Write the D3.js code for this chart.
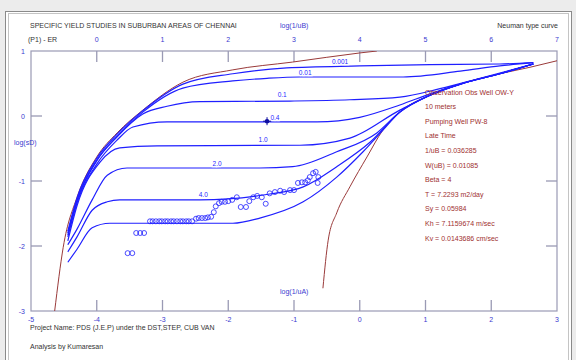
<!DOCTYPE html>
<html>
<head>
<meta charset="utf-8">
<script src="https://cdn.jsdelivr.net/npm/d3@7"></script>
<style>
  html, body { margin: 0; padding: 0; background: #ececec; }
  svg { display: block; font-family: "Liberation Sans", Arial, sans-serif; }
</style>
</head>
<body>
<div id="chart"></div>
<script>
// axis ticks
const bottomTicks = [-5, -4, -3, -2, -1, 0, 1, 2, 3];
const topTicks = [0, 1, 2, 3, 4, 5, 6, 7];
const leftTicks = [1, 0, -1, -2, -3];

// Theis curves: A against log(1/uA), B against log(1/uB)
const theisA = [[-4.64,-3.0],[-4.51,-2.02],[-4.30,-1.25],[-4.00,-0.63],[-3.69,-0.26],[-3.30,0.09],
  [-2.69,0.52],[-1.93,0.71],[-1.02,0.83],[0.0,0.97],[0.26,1.0]];
const theisB = [[3.44,-2.65],[3.52,-1.91],[3.65,-1.49],[3.85,-1.09],[4.11,-0.63],[4.35,-0.22],
  [4.61,0.06],[5.07,0.32],[5.52,0.49],[6.13,0.65],[6.59,0.75],[7.0,0.85]];

// Neuman type curves, one per beta (log(1/uA), log(sD))
const betaValues = ['0.001', '0.01', '0.1', '0.4', '1.0', '2.0', '4.0', '7.0'];
const typeCurves = [
  [[-4.44,-1.77],[-4.30,-1.26],[-4.00,-0.65],[-3.69,-0.28],[-3.30,0.08],[-2.69,0.49],[-1.93,0.65],
   [-1.11,0.74],[0.00,0.77],[1.07,0.79],[2.13,0.80],[2.64,0.82]],
  [[-4.44,-1.80],[-4.30,-1.29],[-4.00,-0.68],[-3.69,-0.31],[-3.30,0.06],[-2.69,0.43],[-1.93,0.54],
   [-1.41,0.58],[-0.91,0.60],[0.66,0.60],[1.53,0.69],[2.13,0.77],[2.64,0.82]],
  [[-4.44,-1.83],[-4.30,-1.31],[-4.00,-0.69],[-3.69,-0.32],[-3.30,0.03],[-2.93,0.15],[-2.43,0.22],
   [-1.06,0.23],[-0.15,0.25],[0.61,0.29],[1.22,0.42],[1.83,0.58],[2.64,0.80]],
  [[-4.44,-1.86],[-4.30,-1.34],[-4.00,-0.74],[-3.69,-0.37],[-3.45,-0.17],[-2.93,-0.09],[-0.65,-0.09],
   [0.00,-0.02],[0.61,0.17],[1.07,0.34],[1.53,0.49],[2.13,0.65],[2.64,0.80]],
  [[-4.44,-1.92],[-4.30,-1.38],[-3.95,-0.71],[-3.65,-0.49],[-3.08,-0.46],[-0.91,-0.45],[-0.15,-0.34],
   [0.61,0.09],[1.07,0.32],[1.53,0.49],[2.13,0.65],[2.64,0.80]],
  [[-4.44,-1.98],[-4.30,-1.74],[-4.07,-1.29],[-3.84,-0.91],[-3.54,-0.80],[-1.52,-0.80],[-1.02,-0.78],
   [-0.35,-0.55],[0.26,-0.26],[0.61,0.06],[1.07,0.32],[1.53,0.49],[2.13,0.65],[2.64,0.80]],
  [[-4.44,-2.09],[-4.30,-1.86],[-4.07,-1.45],[-3.84,-1.32],[-3.65,-1.29],[-2.43,-1.29],[-1.37,-1.20],
   [-0.86,-1.09],[-0.35,-0.78],[0.16,-0.40],[0.61,0.06],[1.07,0.32],[1.53,0.49],[2.13,0.65],[2.64,0.80]],
  [[-4.44,-2.25],[-4.30,-2.05],[-4.07,-1.72],[-3.80,-1.65],[-1.93,-1.65],[-1.52,-1.57],[-0.86,-1.32],
   [-0.35,-0.94],[0.05,-0.55],[0.35,-0.22],[0.61,0.06],[1.07,0.32],[1.53,0.49],[2.13,0.65],[2.64,0.80]]
];
const labelAt = [[-0.30,0.83],[-0.83,0.66],[-1.18,0.32],[-1.29,-0.03],[-1.47,-0.37],[-2.17,-0.74],[-2.38,-1.22],null];
const matchPoint = [-1.41, -0.08];

// observed data
const observed = [
  [-3.53,-2.11],[-3.46,-2.11],
  [-3.40,-1.80],[-3.34,-1.80],[-3.28,-1.80],
  [-3.19,-1.62],[-3.15,-1.62],[-3.10,-1.62],[-3.05,-1.62],[-3.01,-1.62],[-2.96,-1.62],[-2.92,-1.62],
  [-2.87,-1.62],[-2.83,-1.62],[-2.78,-1.62],[-2.73,-1.62],[-2.69,-1.62],[-2.64,-1.62],[-2.60,-1.62],[-2.55,-1.62],
  [-2.49,-1.58],[-2.45,-1.57],[-2.40,-1.57],[-2.35,-1.57],[-2.31,-1.56],[-2.26,-1.55],
  [-2.22,-1.48],[-2.19,-1.39],[-2.14,-1.34],[-2.10,-1.32],[-2.05,-1.32],[-2.00,-1.31],[-1.94,-1.29],
  [-1.87,-1.25],[-1.81,-1.40],[-1.73,-1.40],[-1.68,-1.31],
  [-1.62,-1.25],[-1.56,-1.23],[-1.49,-1.25],[-1.43,-1.35],
  [-1.37,-1.19],[-1.29,-1.17],[-1.21,-1.15],[-1.15,-1.17],[-1.06,-1.14],[-1.00,-1.14],
  [-0.94,-1.03],[-0.88,-1.02],[-0.83,-1.02],[-0.79,-0.99],[-0.76,-0.94],[-0.71,-0.88],[-0.67,-0.86],
  [-0.64,-1.03],[-0.63,-0.94]
];

const legendLines = [
  'Observation Obs Well OW-Y', '10 meters', 'Pumping Well PW-8', 'Late Time',
  '1/uB = 0.036285', 'W(uB) = 0.01085', 'Beta = 4', 'T = 7.2293 m2/day',
  'Sy = 0.05984', 'Kh = 7.1159674 m/sec', 'Kv = 0.0143686 cm/sec'
];

const W = 576, H = 360;
const blue = '#1f1fff', brown = '#9a3a3a', axisCol = '#9a9ab4', tickText = '#3a3ad0';

const svg = d3.select('#chart').append('svg').attr('width', W).attr('height', H);

// window panel
svg.append('rect').attr('x', 5.5).attr('y', 11.5).attr('width', 566).attr('height', 360)
  .attr('fill', '#fff').attr('stroke', '#8a8a8a');
svg.append('rect').attr('x', 8.5).attr('y', 13.5).attr('width', 560).attr('height', 360)
  .attr('fill', 'none').attr('stroke', '#c4c4c4');

const x = d3.scaleLinear().domain([-5, 3]).range([31, 557]);
const xTop = d3.scaleLinear().domain([-1, 7]).range([31, 557]);
const y = d3.scaleLinear().domain([-3, 1]).range([311, 51]);

// frame + inward ticks
const frame = svg.append('g');
frame.append('rect').attr('x', 31).attr('y', 51).attr('width', 526).attr('height', 260)
  .attr('fill', 'none').attr('stroke', axisCol).attr('stroke-width', 1.2);
bottomTicks.slice(1, -1).forEach(v => {
  frame.append('line').attr('x1', x(v)).attr('x2', x(v)).attr('y1', 311).attr('y2', 300)
    .attr('stroke', axisCol).attr('stroke-width', 1.3);
});
topTicks.slice(0, -1).forEach(v => {
  frame.append('line').attr('x1', xTop(v)).attr('x2', xTop(v)).attr('y1', 51).attr('y2', 62)
    .attr('stroke', axisCol).attr('stroke-width', 1.3);
});
leftTicks.slice(1, -1).forEach(v => {
  frame.append('line').attr('x1', 31).attr('x2', 42).attr('y1', y(v)).attr('y2', y(v))
    .attr('stroke', axisCol).attr('stroke-width', 1.3);
  frame.append('line').attr('x1', 557).attr('x2', 546).attr('y1', y(v)).attr('y2', y(v))
    .attr('stroke', axisCol).attr('stroke-width', 1.3);
});

// tick labels
const lab = svg.append('g').attr('font-size', 7).attr('fill', tickText);
bottomTicks.forEach(v => lab.append('text').attr('x', x(v)).attr('y', 322)
  .attr('text-anchor', 'middle').text(v));
topTicks.forEach(v => lab.append('text').attr('x', xTop(v)).attr('y', 42)
  .attr('text-anchor', 'middle').text(v));
leftTicks.forEach(v => lab.append('text').attr('x', 25).attr('y', y(v) + 2.5)
  .attr('text-anchor', 'end').text(v));
lab.append('text').attr('x', 14).attr('y', 145).text('log(sD)');
lab.append('text').attr('x', 280).attr('y', 28).text('log(1/uB)');
lab.append('text').attr('x', 280).attr('y', 294).text('log(1/uA)');

// headings
const txt = svg.append('g').attr('font-size', 7).attr('fill', '#333');
txt.append('text').attr('x', 30).attr('y', 28).text('SPECIFIC YIELD STUDIES IN SUBURBAN AREAS OF CHENNAI');
txt.append('text').attr('x', 558).attr('y', 28).attr('text-anchor', 'end').text('Neuman type curve');
txt.append('text').attr('x', 28).attr('y', 42).text('(P1) - ER');
txt.append('text').attr('x', 30).attr('y', 330).text('Project Name: PDS (J.E.P) under the DST,STEP, CUB VAN');
txt.append('text').attr('x', 30).attr('y', 349).text('Analysis by Kumaresan');

// plotting area
svg.append('clipPath').attr('id', 'clip').append('rect')
  .attr('x', 31).attr('y', 51).attr('width', 526).attr('height', 260);
const plot = svg.append('g').attr('clip-path', 'url(#clip)');

const lineA = d3.line().x(d => x(d[0])).y(d => y(d[1])).curve(d3.curveMonotoneX);
const lineB = d3.line().x(d => xTop(d[0])).y(d => y(d[1])).curve(d3.curveMonotoneX);

plot.append('path').attr('d', lineA(theisA)).attr('fill', 'none')
  .attr('stroke', brown).attr('stroke-width', 1);
plot.append('path').attr('d', lineB(theisB)).attr('fill', 'none')
  .attr('stroke', brown).attr('stroke-width', 1);

plot.selectAll('.tc').data(typeCurves).enter().append('path')
  .attr('class', 'tc').attr('d', lineA).attr('fill', 'none')
  .attr('stroke', blue).attr('stroke-width', 1.2);

// beta labels
plot.selectAll('.bl').data(betaValues.filter((b, i) => labelAt[i]))
  .enter().append('text').attr('class', 'bl')
  .attr('x', (d, i) => x(labelAt[i][0])).attr('y', (d, i) => y(labelAt[i][1]) + 2)
  .attr('text-anchor', 'middle').attr('font-size', 6.5).attr('fill', blue)
  .attr('stroke', '#fff').attr('stroke-width', 2.5).attr('paint-order', 'stroke')
  .text(d => d);

// match point marker
plot.append('circle').attr('cx', x(matchPoint[0])).attr('cy', y(matchPoint[1])).attr('r', 2.3)
  .attr('fill', '#1010a0');
plot.append('path').attr('d', `M${x(matchPoint[0]) - 4},${y(matchPoint[1])}h8M${x(matchPoint[0])},${y(matchPoint[1]) - 4}v8`)
  .attr('stroke', '#1010a0').attr('stroke-width', 1);

// observed drawdown
plot.selectAll('.obs').data(observed).enter().append('circle')
  .attr('class', 'obs').attr('cx', d => x(d[0])).attr('cy', d => y(d[1])).attr('r', 2.5)
  .attr('fill', 'none').attr('stroke', blue).attr('stroke-width', 0.8);

// legend
svg.append('g').attr('font-size', 7).attr('fill', '#a03030')
  .selectAll('text').data(legendLines).enter().append('text')
  .attr('x', 425).attr('y', (d, i) => 94.5 + i * 14.6).text(d => d);
</script>
</body>
</html>
